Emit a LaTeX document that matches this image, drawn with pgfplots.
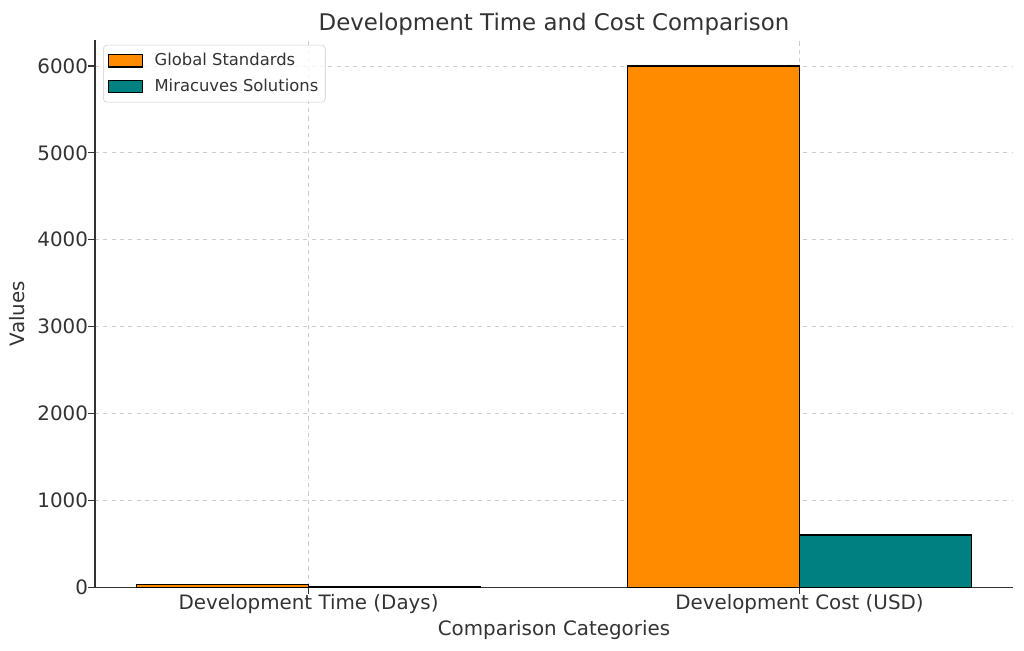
\documentclass[border=0pt]{standalone}
\usepackage{fontspec}
\setmainfont{DejaVu Sans}
\usepackage{pgfplots}
\pgfplotsset{compat=1.18}
\definecolor{gsorange}{HTML}{FF8C00}
\definecolor{mteal}{HTML}{008080}
\definecolor{txt}{HTML}{333333}
\definecolor{gridc}{HTML}{CCCCCC}
\begin{document}
\begin{tikzpicture}
\begin{axis}[
  scale only axis,
  width=661pt, height=394pt,
  xmin=-0.435, xmax=1.435,
  ymin=0, ymax=6300,
  axis x line*=bottom, axis y line*=left,
  axis line style={txt, line width=0.9pt, -},
  xtick={0,1},
  xticklabels={Development Time (Days),Development Cost (USD)},
  ytick={0,1000,2000,3000,4000,5000,6000},
  /pgf/number format/assume math mode=true,
  /pgf/number format/1000 sep={},
  tick style={txt, line width=0.8pt},
  tick align=outside,
  major tick length=5pt,
  ticklabel style={font=\fontsize{14.3}{16}\selectfont, text=txt},
  xticklabel style={yshift=3pt},
  yticklabel style={xshift=3.5pt},
  grid=major,
  grid style={gridc, dashed, line width=0.6pt},
  xlabel={Comparison Categories},
  ylabel={Values},
  label style={font=\fontsize{14.3}{16}\selectfont, text=txt},
  xlabel style={yshift=2pt},
  ylabel style={yshift=2pt},
  title={Development Time and Cost Comparison},
  title style={font=\fontsize{16.5}{18}\selectfont, text=txt, yshift=-6pt},
  legend style={at={(0.0088,0.991)}, anchor=north west, font=\fontsize{11.8}{14}\selectfont, text=txt,
    draw=gridc, rounded corners=2.5pt, fill=white, fill opacity=0.8, text opacity=1,
    row sep=4pt, inner xsep=3pt, inner ysep=4pt},
  legend cell align=left,
  legend image code/.code={\draw[#1, draw=black, fill opacity=1, sharp corners, line width=0.9pt] (0pt,-4.5pt) rectangle (25pt,4.5pt); \path (31pt,0pt);},
]
\addplot[ybar, bar width=0.35, bar shift=-0.175, fill=gsorange, draw=black, line width=0.9pt]
  coordinates {(0,30) (1,6000)};
\addlegendentry{Global Standards}
\addplot[ybar, bar width=0.35, bar shift=0.175, fill=mteal, draw=black, line width=0.9pt]
  coordinates {(0,7) (1,600)};
\addlegendentry{Miracuves Solutions}
\end{axis}
\pgfresetboundingbox
\path ([xshift=-68.4pt,yshift=-45.4pt]current axis.south west) rectangle ([xshift=7.9pt,yshift=28.8pt]current axis.north east);
\end{tikzpicture}
\end{document}
